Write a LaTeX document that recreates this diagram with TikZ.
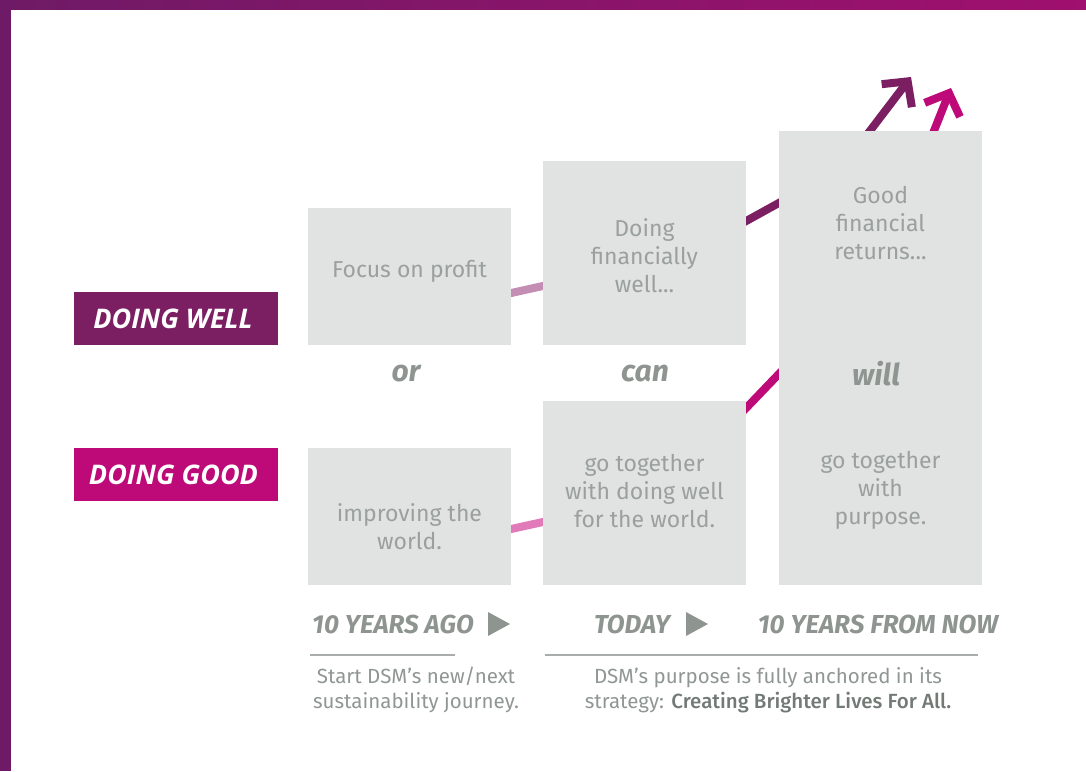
\documentclass[tikz,border=0pt]{standalone}
\usepackage{fontspec}
\setmainfont{Fira Sans}
\newfontfamily\tagfont{Open Sans}
\newfontfamily\medfont{Fira Sans Medium}
\usetikzlibrary{arrows.meta,backgrounds}
\begin{document}
\begin{tikzpicture}[x=1pt,y=-1pt,
  panel/.style={fill=panelgrey,inner sep=0pt,minimum width=203pt},
  paneltext/.style={text=textgrey,align=center,font=\fontsize{23}{28}\selectfont},
  joiner/.style={text=headgrey,font=\fontsize{30}{32}\selectfont\bfseries\itshape},
  tag/.style={text=white,inner sep=0pt,minimum width=204pt,minimum height=53pt,font=\tagfont\fontsize{27}{30}\selectfont\bfseries\itshape},
  era/.style={text=headgrey,font=\fontsize{26}{28}\selectfont\bfseries\itshape},
  note/.style={text=notegrey,align=center,font=\fontsize{20.5}{25}\selectfont},
  link/.style={line width=8pt,shorten <=-6pt,shorten >=-6pt},
  uparrow/.style={line width=8pt,shorten <=-8pt,-{Straight Barb[length=18pt,width=38pt,sharp]}}]
\definecolor{framepurple}{HTML}{6F1A66}
\definecolor{framemagenta}{HTML}{A0106E}
\definecolor{panelgrey}{HTML}{E0E3E2}
\definecolor{textgrey}{HTML}{9AA09D}
\definecolor{headgrey}{HTML}{8E9591}
\definecolor{notegrey}{HTML}{8F9693}
\definecolor{darkgrey}{HTML}{727A76}
\definecolor{rulegrey}{HTML}{A9AEAB}
\definecolor{wellpurple}{HTML}{7B1F62}
\definecolor{welllight}{HTML}{C48DB3}
\definecolor{goodmagenta}{HTML}{BE0A78}
\definecolor{goodlight}{HTML}{E07AB8}
\useasboundingbox (0,0) rectangle (1086,771);
\fill[framepurple] (0,0) rectangle (11,771);
\shade[left color=framepurple,right color=framemagenta] (0,0) rectangle (1086,9);
\node[panel,minimum height=137pt] (profit) at (409.5,276.5) {};
\node[panel,minimum height=184pt] (finwell) at (644.5,253) {};
\node[panel,minimum height=454pt] (future) at (880.5,358) {};
\node[panel,minimum height=137pt] (world) at (409.5,516.5) {};
\node[panel,minimum height=184pt] (together) at (644.5,493) {};
\node[paneltext] (tprofit) at (409.5,271) {Focus on profit};
\node[paneltext] (tfinwell) at (644.5,256) {Doing\\financially\\well...};
\node[paneltext] (tfuture) at (880.5,223) {Good\\financial\\returns...};
\node[paneltext] (tworld) at (409.5,527) {improving the\\world.};
\node[paneltext] (ttogether) at (644.5,491) {go together\\with doing well\\for the world.};
\node[paneltext] (tpurpose) at (880.5,490) {go together\\with\\purpose.};
\node[joiner] (jor) at (406,374) {or};
\node[joiner] (jcan) at (645,374) {can};
\node[joiner] (jwill) at (876,374) {will};
\node[tag,fill=wellpurple] (well) at (176,318.5) {\hspace*{-6pt}DOING WELL};
\node[tag,fill=goodmagenta] (good) at (176,474.5) {\hspace*{-5pt}DOING GOOD};
\coordinate (welltip) at (911,77);
\coordinate (goodtip) at (951,88);
\begin{scope}[on background layer]
\draw[link,welllight] ([yshift=-16.5pt]profit.east) -- ([yshift=-33pt]finwell.west);
\draw[link,wellpurple] ([yshift=32pt]finwell.east) -- ([yshift=155pt]future.west);
\draw[uparrow,wellpurple] ([xshift=-10.5pt]future.north) -- (welltip);
\draw[link,goodlight] ([yshift=-12.5pt]world.east) -- ([yshift=-29pt]together.west);
\draw[link,goodmagenta] ([yshift=85pt]together.east) -- ([yshift=-16pt]future.west);
\draw[uparrow,goodmagenta] ([xshift=53.5pt]future.north) -- (goodtip);
\end{scope}
\node[era] (ago) at (393,624) {10 YEARS AGO};
\node[era] (today) at (632,624) {TODAY};
\node[era] (later) at (878,624) {10 YEARS FROM NOW};
\foreach \x in {488,686} \fill[headgrey] (\x,612) -- (\x+22,624) -- (\x,636) -- cycle;
\draw[rulegrey,line width=1.2pt] (310,655) -- (455,655);
\draw[rulegrey,line width=1.2pt] (545,655) -- (978,655);
\node[note] (journey) at (416,690) {Start DSM’s new/next\\sustainability journey.};
\node[note] (anchored) at (768,690) {DSM’s purpose is fully anchored in its\\strategy: {\medfont\color{darkgrey}Creating Brighter Lives For All.}};
\end{tikzpicture}
\end{document}
